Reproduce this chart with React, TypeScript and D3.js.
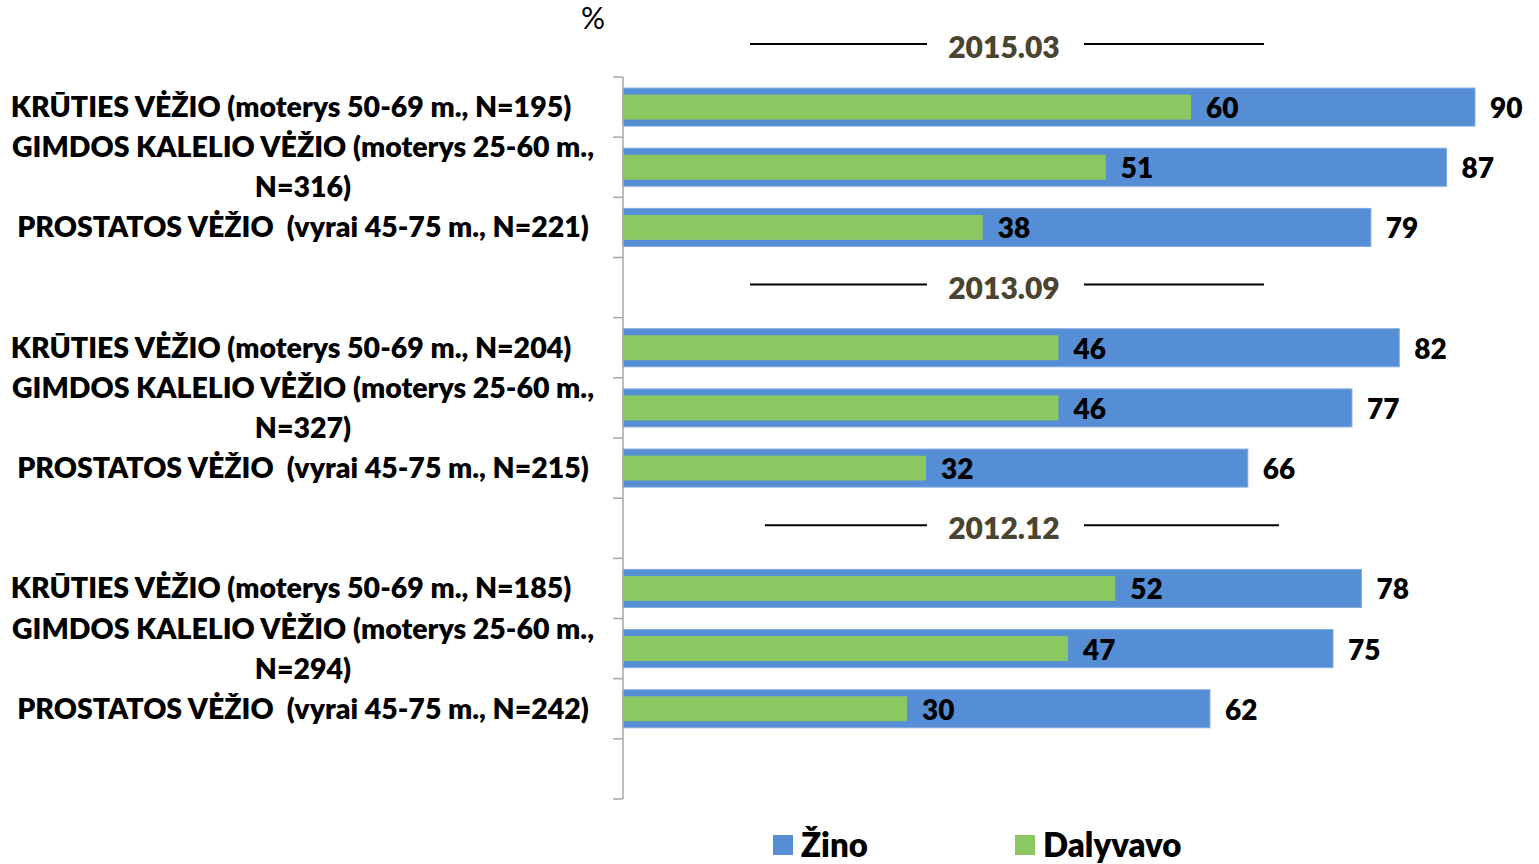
import React from "react";
import * as d3 from "d3";

// Survey periods (newest first) and the three screening programmes per period
const periods = ["2015.03", "2013.09", "2012.12"];
const categories = [
  "KRŪTIES VĖŽIO (moterys 50-69 m., N=195)",
  "GIMDOS KALELIO VĖŽIO (moterys 25-60 m.,\nN=316)",
  "PROSTATOS VĖŽIO  (vyrai 45-75 m., N=221)",
  "KRŪTIES VĖŽIO (moterys 50-69 m., N=204)",
  "GIMDOS KALELIO VĖŽIO (moterys 25-60 m.,\nN=327)",
  "PROSTATOS VĖŽIO  (vyrai 45-75 m., N=215)",
  "KRŪTIES VĖŽIO (moterys 50-69 m., N=185)",
  "GIMDOS KALELIO VĖŽIO (moterys 25-60 m.,\nN=294)",
  "PROSTATOS VĖŽIO  (vyrai 45-75 m., N=242)",
];
// "Žino" = knows about the programme, "Dalyvavo" = took part
const zino = [90, 87, 79, 82, 77, 66, 78, 75, 62];
const dalyvavo = [60, 51, 38, 46, 46, 32, 52, 47, 30];
const seriesNames = ["Žino", "Dalyvavo"];

const W = 1539;
const H = 864;
const BLUE = "#558ed5";
const GREEN = "#8cc862";
const FONT = "Lato, 'Open Sans', sans-serif";
const WEIGHT = 800;

// Horizontal rule extents around each period title (left start, right end)
const ruleSpans: [number, number][] = [
  [750, 1264],
  [750, 1264],
  [765, 1279],
];

export default function App() {
  const x = d3.scaleLinear().domain([0, 90]).range([623, 1475]);
  const slots = d3.range(12);
  const y = d3.scaleBand<number>().domain(slots).range([77, 799]).padding(0);
  const bw = y.bandwidth();
  const slotOf = (i: number) => Math.floor(i / 3) * 4 + (i % 3);
  const blueH = bw * 0.632;
  const greenH = bw * 0.415;
  const labelCx = 303;

  return (
    <svg width={W} height={H} style={{ display: "block", position: "absolute", left: 0, top: 0 }}>
      <rect width={W} height={H} fill="#fff" />
      <text x={593} y={29} fontFamily={FONT} fontSize={30} textAnchor="middle" fill="#000">
        %
      </text>

      {/* period titles with rules */}
      {periods.map((p, g) => {
        const cy = (y(g * 4) as number) - bw / 2;
        const [l, r] = ruleSpans[g];
        return (
          <g key={p}>
            <line x1={l} x2={927} y1={cy - 3} y2={cy - 3} stroke="#000" strokeWidth={2} />
            <line x1={1084} x2={r} y1={cy - 3} y2={cy - 3} stroke="#000" strokeWidth={2} />
            <text
              x={1004}
              y={cy + 11}
              fontFamily={FONT}
              fontWeight={WEIGHT}
              fontSize={30}
              textAnchor="middle"
              fill="#4a4430"
            >
              {p}
            </text>
          </g>
        );
      })}

      {/* bars */}
      {categories.map((c, i) => {
        const yc = (y(slotOf(i)) as number) + bw / 2;
        return (
          <g key={i}>
            <rect
              x={x(0)}
              y={yc - blueH / 2}
              width={x(zino[i]) - x(0)}
              height={blueH}
              fill={BLUE}
              stroke="#7fa9df"
              strokeWidth={1}
            />
            <rect
              x={x(0)}
              y={yc - greenH / 2}
              width={x(dalyvavo[i]) - x(0)}
              height={greenH}
              fill={GREEN}
            />
            <text
              x={x(dalyvavo[i]) + 15}
              y={yc + 11}
              fontFamily={FONT}
              fontWeight={WEIGHT}
              fontSize={28}
              fill="#000"
            >
              {dalyvavo[i]}
            </text>
            <text
              x={x(zino[i]) + 15}
              y={yc + 11}
              fontFamily={FONT}
              fontWeight={WEIGHT}
              fontSize={28}
              fill="#000"
            >
              {zino[i]}
            </text>
          </g>
        );
      })}

      {/* axis line and ticks */}
      <line x1={x(0)} x2={x(0)} y1={77} y2={799} stroke="#a6a6a6" strokeWidth={1.5} />
      {d3.range(13).map((k) => {
        const ty = 77 + k * bw;
        return <line key={k} x1={613} x2={x(0)} y1={ty} y2={ty} stroke="#a6a6a6" strokeWidth={1.5} />;
      })}

      {/* category labels */}
      {categories.map((c, i) => {
        const yc = (y(slotOf(i)) as number) + bw / 2;
        const lines = c.split("\n");
        const isKr = c.startsWith("KRŪTIES");
        return (
          <text
            key={i}
            fontFamily={FONT}
            fontWeight={WEIGHT}
            fontSize={28.5}
            textAnchor="middle"
            fill="#000"
            style={{ whiteSpace: "pre" }}
          >
            {lines.map((ln, k) => (
              <tspan
                key={k}
                x={isKr ? labelCx - 12 : labelCx}
                y={yc + 10 + (k - (lines.length - 1) / 2) * 40}
              >
                {ln}
              </tspan>
            ))}
          </text>
        );
      })}

      {/* legend */}
      {seriesNames.map((s, k) => {
        const lx = k === 0 ? 773 : 1015;
        return (
          <g key={s}>
            <rect x={lx} y={835} width={20} height={20} fill={k === 0 ? BLUE : GREEN} />
            <text x={lx + 28} y={857} fontFamily={FONT} fontWeight={WEIGHT} fontSize={33} fill="#000">
              {s}
            </text>
          </g>
        );
      })}
    </svg>
  );
}
